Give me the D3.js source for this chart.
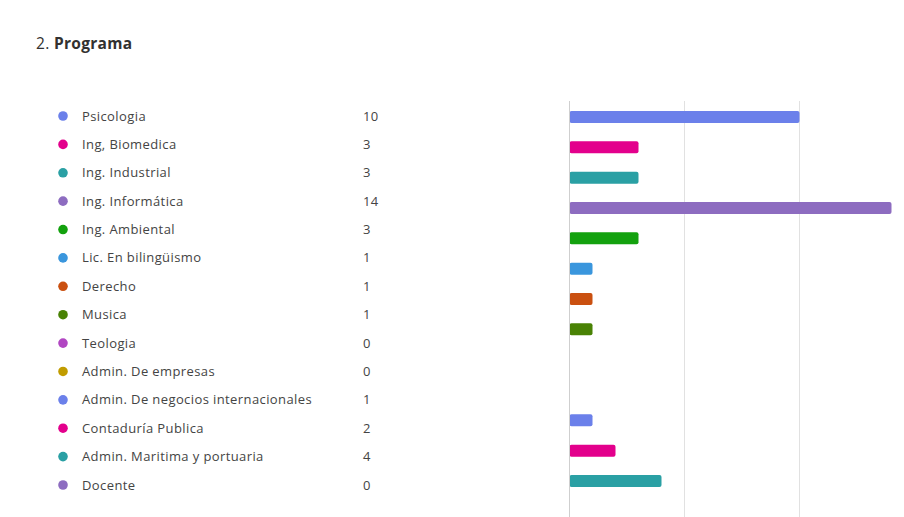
<!DOCTYPE html>
<html>
<head>
<meta charset="utf-8">
<script src="https://cdn.jsdelivr.net/npm/d3@7"></script>
<style>
  html, body { margin: 0; padding: 0; background: #fff; }
  svg { display: block; }
</style>
</head>
<body>
<svg id="chart" width="904" height="517"></svg>
<script>
const categories = ["Psicologia", "Ing, Biomedica", "Ing. Industrial", "Ing. Informática", "Ing. Ambiental",
  "Lic. En bilingüismo", "Derecho", "Musica", "Teologia", "Admin. De empresas",
  "Admin. De negocios internacionales", "Contaduría Publica", "Admin. Maritima y portuaria", "Docente"];
const values = [10, 3, 3, 14, 3, 1, 1, 1, 0, 0, 1, 2, 4, 0];
const colors = ["#6b80ea", "#e3008c", "#2aa0a4", "#8d6cc0", "#13a10e", "#3a96dd", "#ca5010", "#498205",
  "#b146c2", "#c19c00", "#6b80ea", "#e3008c", "#2aa0a4", "#8d6cc0"];
const gridTicks = [0, 5, 10];

const svg = d3.select("#chart");
const font = "'Open Sans', 'Noto Sans', sans-serif";

// Title
const title = svg.append("text").attr("x", 36).attr("y", 49)
  .attr("font-family", font).attr("font-size", 15.5).attr("fill", "#323130")
  .attr("letter-spacing", 0.3);
title.append("tspan").text("2. ");
title.append("tspan").attr("font-weight", "bold").text("Programa");

// Legend
const yLegend = d3.scalePoint().domain(categories).range([116, 485]);
const legend = svg.append("g");
const rows = legend.selectAll("g").data(categories).join("g")
  .attr("transform", d => `translate(0,${yLegend(d)})`);
rows.append("circle").attr("cx", 63).attr("cy", 0).attr("r", 4.8)
  .attr("fill", (d, i) => colors[i]);
rows.append("text").attr("x", 82).attr("y", 0).attr("dy", "0.35em")
  .attr("font-family", font).attr("font-size", 13).attr("fill", "#444")
  .attr("letter-spacing", 0.4)
  .text(d => d);
rows.append("text").attr("x", 363).attr("y", 0).attr("dy", "0.35em")
  .attr("font-family", font).attr("font-size", 13).attr("fill", "#444")
  .attr("letter-spacing", 0.4)
  .text((d, i) => values[i]);

// Bars
const x = d3.scaleLinear().domain([0, 14]).range([569.5, 891.5]);
const yBar = d3.scalePoint().domain(categories).range([117, 511.3]);
const barH = 12;

svg.append("g").selectAll("line").data(gridTicks.filter(t => t > 0)).join("line")
  .attr("x1", d => x(d)).attr("x2", d => x(d))
  .attr("y1", 101).attr("y2", 517)
  .attr("stroke", "#e1e1e1").attr("stroke-width", 1);

svg.append("g").selectAll("rect").data(categories).join("rect")
  .attr("x", x(0))
  .attr("y", d => yBar(d) - barH / 2)
  .attr("width", (d, i) => x(values[i]) - x(0))
  .attr("height", barH)
  .attr("rx", 2)
  .attr("fill", (d, i) => colors[i]);

svg.append("line")
  .attr("x1", x(0)).attr("x2", x(0))
  .attr("y1", 101).attr("y2", 517)
  .attr("stroke", "#cfcfcf").attr("stroke-width", 1);
</script>
</body>
</html>
